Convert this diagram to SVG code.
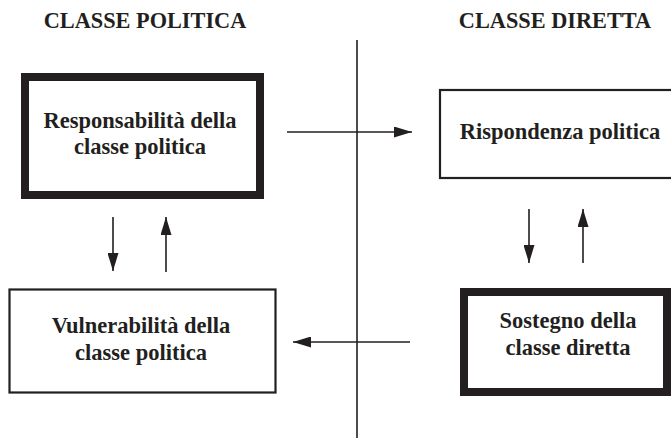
<svg xmlns="http://www.w3.org/2000/svg" width="671" height="445" viewBox="0 0 671 445">
<style>
text{font-family:"Liberation Serif","Times New Roman",serif;font-weight:bold;fill:#231f20;text-anchor:middle}
.hd{font-size:22.3px}
.lb{font-size:22.5px}
.box{fill:#fff;stroke:#231f20}
.thick{stroke-width:8}
.thin{stroke-width:2.2}
.conn{stroke:#231f20;stroke-width:1.6;fill:none}
</style>
<defs>
<marker id="ah" markerUnits="userSpaceOnUse" markerWidth="19" markerHeight="11" refX="18" refY="5.5" orient="auto">
<path d="M0,0 L18,5.5 L0,11 z" fill="#231f20"/>
</marker>
</defs>
<g id="headers">
<text class="hd" x="145" y="28">CLASSE POLITICA</text>
<text class="hd" x="555" y="28">CLASSE DIRETTA</text>
</g>
<g id="connectors">
<line class="conn" x1="357" y1="40" x2="357" y2="438"/>
<line class="conn" x1="287" y1="132" x2="412" y2="132" marker-end="url(#ah)"/>
<line class="conn" x1="410" y1="342" x2="293" y2="342" marker-end="url(#ah)"/>
<line class="conn" x1="113" y1="217" x2="113" y2="271" marker-end="url(#ah)"/>
<line class="conn" x1="166" y1="272" x2="166" y2="217" marker-end="url(#ah)"/>
<line class="conn" x1="529" y1="209" x2="529" y2="263" marker-end="url(#ah)"/>
<line class="conn" x1="583" y1="263" x2="583" y2="209" marker-end="url(#ah)"/>
</g>
<g id="responsabilita">
<rect class="box thick" x="25" y="77" width="235" height="118"/>
<text class="lb" x="140" y="128">Responsabilità della</text>
<text class="lb" x="140" y="154">classe politica</text>
</g>
<g id="rispondenza">
<rect class="box thin" x="440" y="90" width="240" height="88"/>
<text class="lb" x="560" y="139">Rispondenza politica</text>
</g>
<g id="vulnerabilita">
<rect class="box thin" x="9.5" y="289.5" width="266" height="103"/>
<text class="lb" x="141" y="333">Vulnerabilità della</text>
<text class="lb" x="141" y="360">classe politica</text>
</g>
<g id="sostegno">
<rect class="box thick" x="464" y="292" width="203" height="100"/>
<text class="lb" x="568" y="328">Sostegno della</text>
<text class="lb" x="568" y="355">classe diretta</text>
</g>
</svg>
